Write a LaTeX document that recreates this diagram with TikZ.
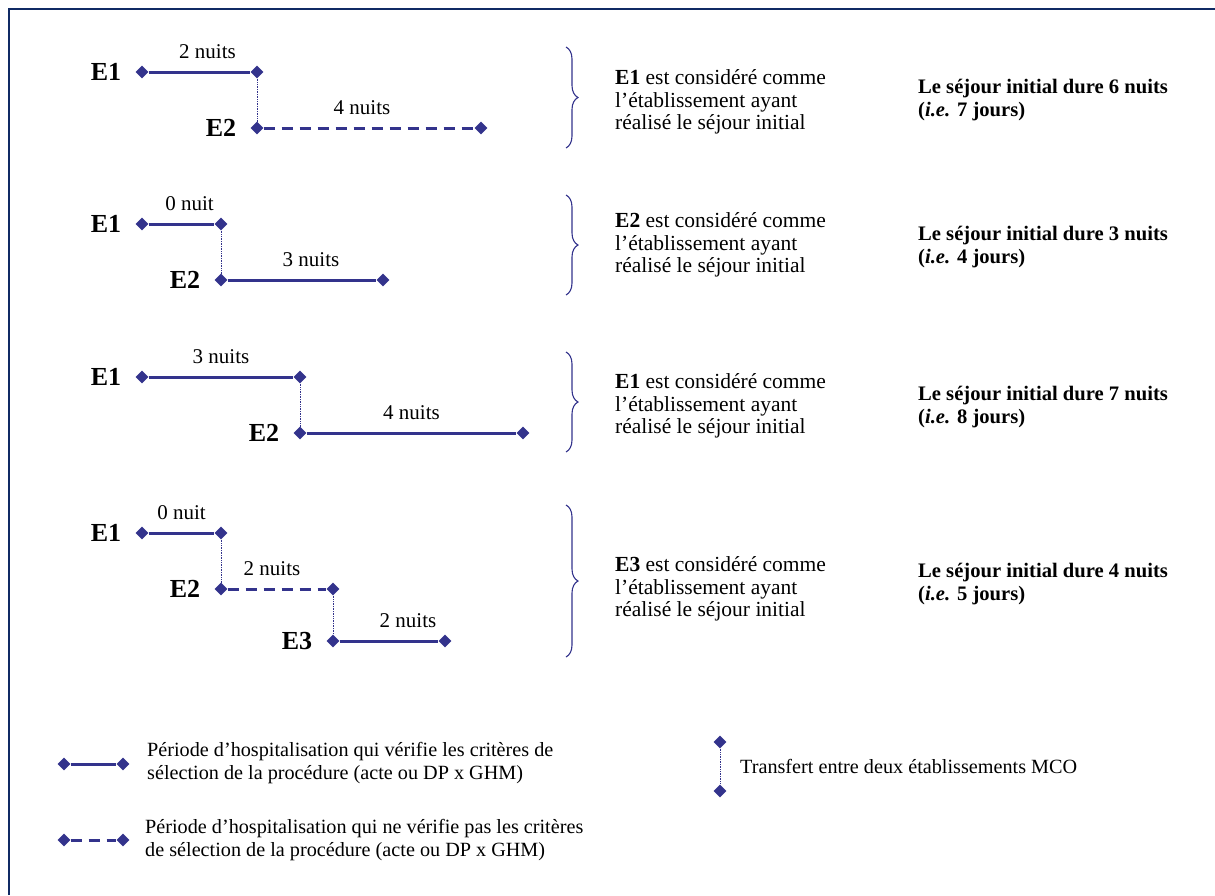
\documentclass[tikz,border=0pt]{standalone}
\usepackage{fontspec}
\setmainfont{Liberation Serif}
\usetikzlibrary{shapes.geometric,decorations.pathreplacing,positioning}
\definecolor{indigo}{RGB}{51,51,140}
\definecolor{cadre}{RGB}{16,42,100}

\begin{document}
\begin{tikzpicture}[x=1pt,y=-1pt,
  dia/.style={diamond,fill=indigo,inner sep=0pt,minimum size=13pt},
  sel/.style={indigo,line width=3pt},
  nonsel/.style={indigo,line width=3pt,dash pattern=on 11pt off 7pt},
  transf/.style={indigo,line width=0.7pt,densely dotted},
  etab/.style={font=\fontsize{26}{26}\selectfont\bfseries,inner sep=0pt},
  nuits/.style={font=\fontsize{21}{21}\selectfont,text=black,inner sep=0pt,above=12pt},
  txt/.style={font=\fontsize{20.2}{22.5}\selectfont,align=left,anchor=west,inner sep=0pt},
  choix/.style={txt,font=\fontsize{21.5}{22.5}\selectfont},
  duree/.style={txt,font=\fontsize{20.6}{22.5}\selectfont\bfseries},
  accol/.style={indigo,line width=1.1pt,decorate,decoration={brace,amplitude=12pt}}]
 \useasboundingbox (0,0) rectangle (1215,895);
 \draw[cadre,line width=2.5pt] (9,895) -- (9,9) -- (1215,9);
 % cas 1
 \node[dia] (a1) at (142,72) {};
 \node[dia] (a2) at (257,72) {};
 \node[dia] (a3) at (257,128) {};
 \node[dia] (a4) at (481,128) {};
 \node[etab,left=14pt of a1] (ae1) {E1};
 \node[etab,left=14pt of a3] (ae2) {E2};
 \draw[sel] (a1) -- node[nuits,xshift=8pt] (an1) {2 nuits} (a2);
 \draw[transf] (a2) -- (a3);
 \draw[nonsel] (a3) -- node[nuits,xshift=-7pt] (an2) {4 nuits} (a4);
 \draw[accol] (566,47) -- (566,148);
 \node[choix] (at) at (615,102) {\textbf{E1} est considéré comme\\l’établissement ayant\\réalisé le séjour initial};
 \node[duree] (ad) at (918,100) {Le séjour initial dure 6 nuits\\(\textit{i.e.} 7 jours)};
 % cas 2
 \node[dia] (b1) at (142,224) {};
 \node[dia] (b2) at (221,224) {};
 \node[dia] (b3) at (221,280) {};
 \node[dia] (b4) at (383,280) {};
 \node[etab,left=14pt of b1] (be1) {E1};
 \node[etab,left=14pt of b3] (be2) {E2};
 \draw[sel] (b1) -- node[nuits,xshift=8pt] (bn1) {0 nuit} (b2);
 \draw[transf] (b2) -- (b3);
 \draw[sel] (b3) -- node[nuits,xshift=9pt] (bn2) {3 nuits} (b4);
 \draw[accol] (566,195) -- (566,295);
 \node[choix] (bt) at (615,245) {\textbf{E2} est considéré comme\\l’établissement ayant\\réalisé le séjour initial};
 \node[duree] (bd) at (918,247) {Le séjour initial dure 3 nuits\\(\textit{i.e.} 4 jours)};
 % cas 3
 \node[dia] (c1) at (142,377) {};
 \node[dia] (c2) at (300,377) {};
 \node[dia] (c3) at (300,433) {};
 \node[dia] (c4) at (523,433) {};
 \node[etab,left=14pt of c1] (ce1) {E1};
 \node[etab,left=14pt of c3] (ce2) {E2};
 \draw[sel] (c1) -- node[nuits] (cn1) {3 nuits} (c2);
 \draw[transf] (c2) -- (c3);
 \draw[sel] (c3) -- node[nuits] (cn2) {4 nuits} (c4);
 \draw[accol] (566,352) -- (566,452);
 \node[choix] (ct) at (615,406) {\textbf{E1} est considéré comme\\l’établissement ayant\\réalisé le séjour initial};
 \node[duree] (cd) at (918,407) {Le séjour initial dure 7 nuits\\(\textit{i.e.} 8 jours)};
 % cas 4
 \node[dia] (d1) at (142,533) {};
 \node[dia] (d2) at (221,533) {};
 \node[dia] (d3) at (221,589) {};
 \node[dia] (d4) at (333,589) {};
 \node[dia] (d5) at (333,641) {};
 \node[dia] (d6) at (445,641) {};
 \node[etab,left=14pt of d1] (de1) {E1};
 \node[etab,left=14pt of d3] (de2) {E2};
 \node[etab,left=14pt of d5] (de3) {E3};
 \draw[sel] (d1) -- node[nuits] (dn1) {0 nuit} (d2);
 \draw[transf] (d2) -- (d3);
 \draw[nonsel] (d3) -- node[nuits,xshift=-5pt] (dn2) {2 nuits} (d4);
 \draw[transf] (d4) -- (d5);
 \draw[sel] (d5) -- node[nuits,xshift=19pt] (dn3) {2 nuits} (d6);
 \draw[accol] (566,505) -- (566,657);
 \node[choix] (dt) at (615,589) {\textbf{E3} est considéré comme\\l’établissement ayant\\réalisé le séjour initial};
 \node[duree] (dd) at (918,584) {Le séjour initial dure 4 nuits\\(\textit{i.e.} 5 jours)};
 % legende
 \node[dia] (l1) at (64,764) {};
 \node[dia] (l2) at (123,764) {};
 \draw[sel] (l1) -- (l2);
 \node[txt] (lt1) at (147,763) {Période d’hospitalisation qui vérifie les critères de\\sélection de la procédure (acte ou DP x GHM)};
 \node[dia] (l3) at (64,840) {};
 \node[dia] (l4) at (123,840) {};
 \draw[nonsel] (l3) -- (l4);
 \node[txt] (lt2) at (145,840) {Période d’hospitalisation qui ne vérifie pas les critères\\de sélection de la procédure (acte ou DP x GHM)};
 \node[dia] (l5) at (720,742) {};
 \node[dia] (l6) at (720,791) {};
 \draw[transf] (l5) -- (l6);
 \node[txt] (lt3) at (740,766) {Transfert entre deux établissements MCO};
\end{tikzpicture}
\end{document}
